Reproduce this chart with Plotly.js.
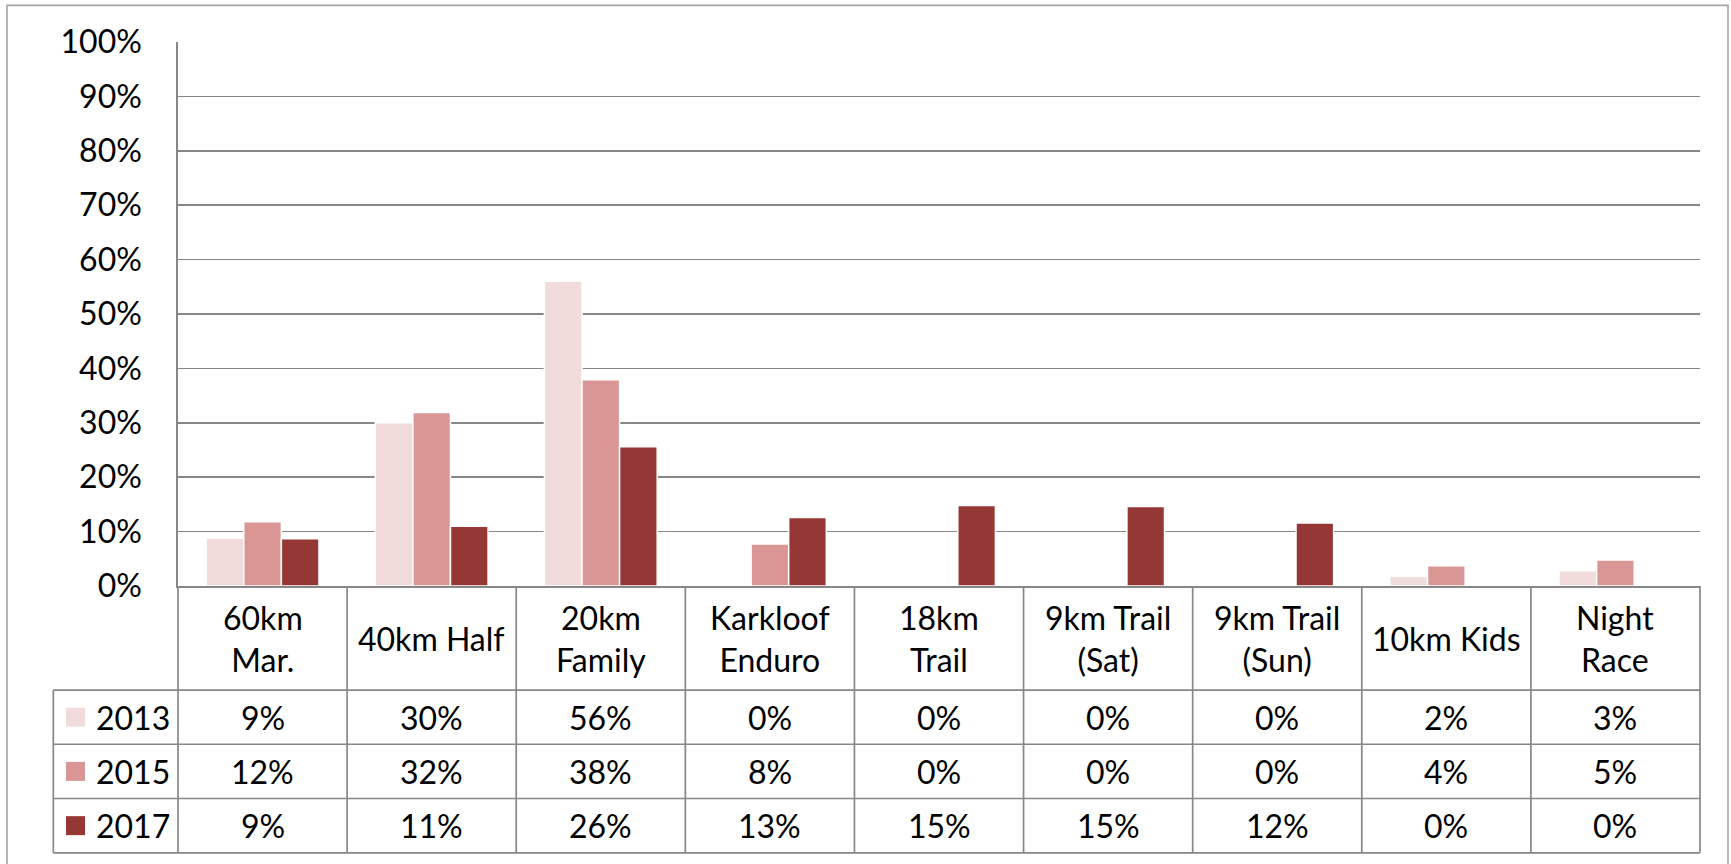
<!DOCTYPE html>
<html>
<head>
<meta charset="utf-8">
<script src="https://cdn.plot.ly/plotly-3.0.1.min.js"></script>
<style>html,body{margin:0;padding:0;background:#fff;}#chart{width:1731px;height:864px;}</style>
</head>
<body>
<div id="chart"></div>
<script>
// ---- data ----
const categories = ['60km<br>Mar.', '40km Half', '20km<br>Family', 'Karkloof<br>Enduro', '18km<br>Trail',
                    '9km Trail<br>(Sat)', '9km Trail<br>(Sun)', '10km Kids', 'Night<br>Race'];
const seriesNames = ['2013', '2015', '2017'];
const values2013 = [0.088, 0.300, 0.560, 0, 0, 0, 0, 0.018, 0.028];
const values2015 = [0.118, 0.319, 0.379, 0.077, 0, 0, 0, 0.037, 0.048];
const values2017 = [0.087, 0.110, 0.256, 0.126, 0.148, 0.146, 0.116, 0, 0];
const seriesColors = ['#F2DCDB', '#D99694', '#953735'];

// ---- geometry (pixels) ----
const W = 1731, H = 864;
const L = 178, R = 1700, T = 41.7, B = 586.5;
const plotW = R - L, plotH = B - T;
const px2x = p => (p - L) / plotW;
const py = p => (B - p) / plotH;
const tableLeft = 53.3;
const rowLines = [690.7, 745, 799.3, 853.7];
const headerCenter = (B + rowLines[0]) / 2;
const rowCenters = [0, 1, 2].map(i => (rowLines[i] + rowLines[i + 1]) / 2);

const FONT = 'Lato, "Open Sans", sans-serif';
const FS = 32;
const gridCol = '#878787';
const allSeries = [values2013, values2015, values2017];

const traces = allSeries.map((vals, i) => ({
  type: 'bar',
  name: seriesNames[i],
  x: categories,
  y: vals,
  marker: {color: seriesColors[i], line: {color: '#ffffff', width: 1.5}},
  hoverinfo: 'skip'
}));

const shapes = [];
const annotations = [];
const lineStyle = {color: gridCol, width: 1.7};

// outer chart border
shapes.push({type: 'rect', xref: 'paper', yref: 'paper',
  x0: px2x(7), x1: px2x(1728), y0: py(5), y1: py(880),
  line: {color: '#a6a6a6', width: 1.6}, fillcolor: 'rgba(0,0,0,0)'});

// table horizontal lines
rowLines.forEach(p => shapes.push({type: 'line', xref: 'paper', yref: 'paper',
  x0: px2x(tableLeft), x1: 1, y0: py(p), y1: py(p), line: lineStyle}));
// left edge of legend column
shapes.push({type: 'line', xref: 'paper', yref: 'paper',
  x0: px2x(tableLeft), x1: px2x(tableLeft), y0: py(rowLines[0]), y1: py(rowLines[3]), line: lineStyle});
// left edge of data (axis continuation) and right edge
[0, 1].forEach(xx => shapes.push({type: 'line', xref: 'paper', yref: 'paper',
  x0: xx, x1: xx, y0: 0, y1: py(rowLines[3]), line: lineStyle}));
// category separators
for (let i = 0; i < categories.length - 1; i++) {
  shapes.push({type: 'line', xref: 'x', yref: 'paper',
    x0: i + 0.5, x1: i + 0.5, y0: 0, y1: py(rowLines[3]), line: lineStyle});
}

// category labels in header row
categories.forEach(c => annotations.push({xref: 'x', yref: 'paper', x: c, y: py(headerCenter),
  text: c, showarrow: false, xanchor: 'center', yanchor: 'middle',
  font: {family: FONT, size: FS, color: '#000'}}));

// values rows
allSeries.forEach((vals, s) => {
  vals.forEach((v, i) => annotations.push({xref: 'x', yref: 'paper', x: categories[i], y: py(rowCenters[s]),
    text: Math.round(v * 100) + '%', showarrow: false, xanchor: 'center', yanchor: 'middle',
    font: {family: FONT, size: FS, color: '#000'}}));
  // legend key
  shapes.push({type: 'rect', xref: 'paper', yref: 'paper',
    x0: px2x(66), x1: px2x(85), y0: py(rowCenters[s] - 9.5), y1: py(rowCenters[s] + 9.5),
    line: {width: 0}, fillcolor: seriesColors[s]});
  annotations.push({xref: 'paper', yref: 'paper', x: px2x(94), y: py(rowCenters[s]),
    text: seriesNames[s], showarrow: false, xanchor: 'left', yanchor: 'middle',
    font: {family: FONT, size: FS, color: '#000'}});
});

const layout = {
  width: W, height: H,
  margin: {l: L, r: W - R, t: T, b: H - B, pad: 0},
  paper_bgcolor: '#ffffff', plot_bgcolor: '#ffffff',
  showlegend: false,
  barmode: 'group', bargap: 0.333, bargroupgap: 0,
  font: {family: FONT, size: FS, color: '#000'},
  xaxis: {type: 'category', showticklabels: false, ticks: '', showgrid: false, zeroline: false,
    showline: true, linecolor: gridCol, linewidth: 1.7, fixedrange: true},
  yaxis: {range: [0, 1], dtick: 0.1, tick0: 0, tickformat: '.0%', ticks: '',
    showgrid: true, gridcolor: gridCol, gridwidth: 1.7, zeroline: false,
    showline: true, linecolor: gridCol, linewidth: 1.7,
    ticklabelstandoff: 28, tickfont: {family: FONT, size: FS, color: '#000'}, fixedrange: true},
  shapes: shapes,
  annotations: annotations
};

Plotly.newPlot('chart', traces, layout, {displayModeBar: false, staticPlot: true});
</script>
</body>
</html>
